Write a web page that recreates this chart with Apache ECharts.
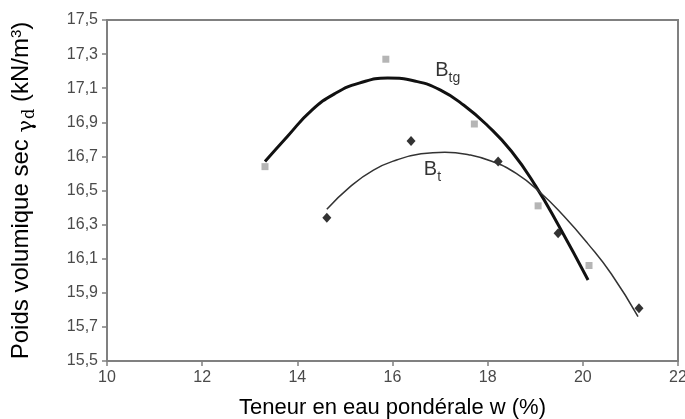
<!DOCTYPE html>
<html lang="fr">
<head>
    <meta charset="UTF-8">
    <title>Poids volumique sec</title>
    <script type="text/javascript" src="https://cdn.jsdelivr.net/npm/echarts@6/dist/echarts.min.js"></script>
    <style>
        body { margin: 0; background: #fff; }
    </style>
</head>
<body>
<div id="main" style="width: 685px;height:419px"></div>
<script type="text/javascript">
    // points mesurés
    var btgW = [13.32, 15.86, 17.72, 19.06, 20.13];
    var btgGamma = [16.64, 17.27, 16.89, 16.41, 16.06];
    var btW = [14.62, 16.39, 18.22, 19.48, 21.18];
    var btGamma = [16.34, 16.79, 16.67, 16.25, 15.81];

    // courbes de tendance
    var btgCurveW = [13.32, 13.8, 14.3, 14.8, 15.3, 15.9, 16.5, 17.0, 17.5, 18.0, 18.5, 19.0, 19.5, 20.11];
    var btgCurveGamma = [16.67, 16.82, 16.97, 17.07, 17.13, 17.16, 17.14, 17.09, 17.0, 16.88, 16.73, 16.53, 16.29, 15.975];
    var btCurveW = [14.62, 15.1, 15.6, 16.1, 16.6, 17.1, 17.6, 18.1, 18.6, 19.1, 19.6, 20.1, 20.6, 21.16];
    var btCurveGamma = [16.39, 16.52, 16.62, 16.68, 16.715, 16.725, 16.71, 16.67, 16.6, 16.49, 16.35, 16.19, 16.01, 15.76];

    // étiquettes des courbes
    var curveNames = ['tg', 't'];
    var labelW = [17.16, 16.84];
    var labelGamma = [17.2, 16.62];

    var xTicks = [10, 12, 14, 16, 18, 20, 22];

    function pairs(xs, ys) {
        var out = [];
        for (var i = 0; i < xs.length; i++) {
            out.push([xs[i], ys[i]]);
        }
        return out;
    }

    var chartDom = document.getElementById('main');
    var myChart = echarts.init(chartDom);

    var labelData = [];
    for (var i = 0; i < curveNames.length; i++) {
        labelData.push({value: [labelW[i], labelGamma[i]], name: curveNames[i]});
    }

    var font = 'Arial, Liberation Sans, sans-serif';

    var option = {
        animation: false,
        backgroundColor: '#fff',
        textStyle: {fontFamily: font},
        grid: {
            left: 107, right: 7, top: 20, bottom: 58,
            outerBoundsMode: 'none',
            containLabel: false,
            show: true, borderColor: '#808080', borderWidth: 2
        },
        xAxis: {
            type: 'value',
            min: xTicks[0],
            max: xTicks[xTicks.length - 1],
            interval: 2,
            name: 'Teneur en eau pondérale w (%)',
            nameLocation: 'middle',
            nameGap: 36,
            nameTextStyle: {fontSize: 22, color: '#000', fontFamily: font},
            axisLine: {lineStyle: {color: '#808080', width: 2}},
            axisTick: {show: true, length: 5, lineStyle: {color: '#808080', width: 1.5}},
            axisLabel: {fontSize: 16, color: '#4a4a4a', margin: 9},
            splitLine: {show: false}
        },
        yAxis: {
            type: 'value',
            min: 15.5,
            max: 17.5,
            interval: 0.2,
            name: '{t|Poids volumique sec }{g|γ}{d|d}{t| (kN/m}{s|3}{t|)}',
            nameLocation: 'middle',
            nameGap: 71,
            nameRotate: 90,
            nameTextStyle: {
                color: '#000',
                rich: {
                    t: {fontSize: 24, lineHeight: 27, verticalAlign: 'top', color: '#000', fontFamily: font},
                    g: {fontSize: 21, lineHeight: 21, verticalAlign: 'top', color: '#000', fontFamily: 'DejaVu Serif, serif', padding: [7, 0, 0, 0]},
                    d: {fontSize: 16, lineHeight: 16, verticalAlign: 'top', color: '#000', fontFamily: 'DejaVu Serif, serif', padding: [13, 0, 0, 1]},
                    s: {fontSize: 15, lineHeight: 15, verticalAlign: 'top', color: '#000', fontFamily: font}
                }
            },
            axisLine: {lineStyle: {color: '#808080', width: 2}},
            axisTick: {show: true, length: 5, lineStyle: {color: '#808080', width: 1.5}},
            axisLabel: {
                fontSize: 16, color: '#4a4a4a', margin: 9,
                formatter: function (v) { return v.toFixed(1).replace('.', ','); }
            },
            splitLine: {show: false}
        },
        series: [
            {
                name: 'Btg courbe',
                type: 'line',
                data: pairs(btgCurveW, btgCurveGamma),
                smooth: 0.5,
                showSymbol: false,
                lineStyle: {color: '#111', width: 3}
            },
            {
                name: 'Bt courbe',
                type: 'line',
                data: pairs(btCurveW, btCurveGamma),
                smooth: 0.5,
                showSymbol: false,
                lineStyle: {color: '#333', width: 1.5}
            },
            {
                name: 'Btg',
                type: 'scatter',
                data: pairs(btgW, btgGamma),
                symbol: 'rect',
                symbolSize: 7,
                itemStyle: {color: '#a3a3a3'}
            },
            {
                name: 'Bt',
                type: 'scatter',
                data: pairs(btW, btGamma),
                symbol: 'diamond',
                symbolSize: [9, 10],
                itemStyle: {color: '#000'}
            },
            {
                name: 'labels',
                type: 'scatter',
                data: labelData,
                symbolSize: 0,
                silent: true,
                label: {
                    show: true,
                    position: 'inside',
                    formatter: function (p) { return '{b|B}{s|' + p.name + '}'; },
                    rich: {
                        b: {fontSize: 20, lineHeight: 22, verticalAlign: 'top', color: '#000', fontFamily: font},
                        s: {fontSize: 14, lineHeight: 14, verticalAlign: 'top', color: '#000', fontFamily: font, padding: [11, 0, 0, 0]}
                    }
                }
            }
        ]
    };

    option && myChart.setOption(option);
</script>
</body>
</html>
